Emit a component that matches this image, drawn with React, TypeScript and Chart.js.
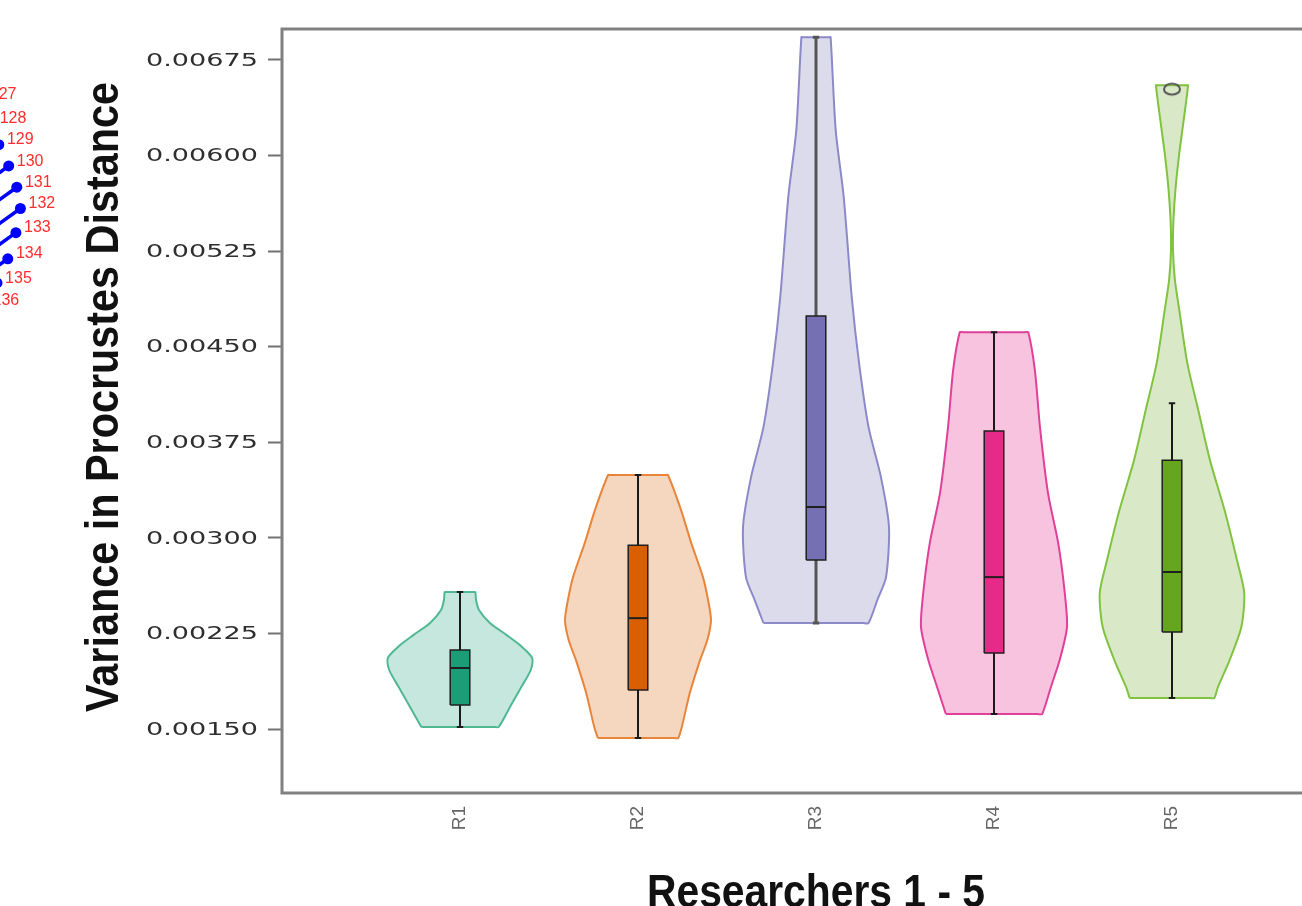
import React, { useEffect, useRef } from "react";
import { Chart, registerables } from "chart.js";

Chart.register(...registerables);

// ---------------- DATA ----------------
const categories = ["R1", "R2", "R3", "R4", "R5"];
const yTickValues = [0.0015, 0.00225, 0.003, 0.00375, 0.0045, 0.00525, 0.006, 0.00675];
const yTickLabels = ["0.00150", "0.00225", "0.00300", "0.00375", "0.00450", "0.00525", "0.00600", "0.00675"];
const yMin = 0.000998;
const yMax = 0.006993;

// violin profiles: value levels (bottom -> top) and relative density width (0-1)
const r1Levels = [0.001516, 0.001688, 0.001829, 0.001963, 0.002057, 0.002159, 0.002237, 0.002332, 0.002434, 0.002512, 0.002575];
const r1Density = [0.53, 0.7, 0.84, 0.97, 0.99, 0.82, 0.64, 0.41, 0.26, 0.22, 0.21];

const r2Levels = [0.001429, 0.001516, 0.001782, 0.002041, 0.002198, 0.002355, 0.002512, 0.002692, 0.002959, 0.003218, 0.003493];
const r2Density = [0.55, 0.6, 0.71, 0.85, 0.95, 1.0, 0.96, 0.89, 0.73, 0.59, 0.41];

const r3Levels = [0.002332, 0.002512, 0.002692, 0.003085, 0.003477, 0.003869, 0.004371, 0.004889, 0.005674, 0.006199, 0.006929];
const r3Density = [0.72, 0.84, 0.96, 1.0, 0.89, 0.72, 0.59, 0.49, 0.38, 0.27, 0.2];

const r4Levels = [0.001618, 0.00183, 0.002041, 0.0023, 0.002567, 0.002959, 0.003351, 0.003869, 0.004316, 0.004614];
const r4Density = [0.66, 0.78, 0.9, 1.0, 0.97, 0.88, 0.74, 0.63, 0.56, 0.47];

const r5Levels = [0.001743, 0.00183, 0.002041, 0.0023, 0.002567, 0.002826, 0.003218, 0.00361, 0.004003, 0.004371, 0.004787, 0.005022, 0.005258, 0.005493, 0.005752, 0.006019, 0.006278, 0.006552];
const r5Density = [0.58, 0.63, 0.79, 0.95, 0.99, 0.89, 0.72, 0.52, 0.36, 0.21, 0.1, 0.04, 0.014, 0.02, 0.05, 0.1, 0.16, 0.22];

// box plot statistics
const boxMin = [0.001516, 0.001429, 0.002332, 0.001618, 0.001743];
const boxQ1 = [0.001688, 0.001806, 0.002826, 0.002096, 0.002261];
const boxMedian = [0.001979, 0.00237, 0.003242, 0.002692, 0.002732];
const boxQ3 = [0.00212, 0.002943, 0.00474, 0.003838, 0.00361];
const boxMax = [0.002575, 0.003493, 0.006929, 0.004614, 0.004057];

const outlierCategory = [5];
const outlierValue = [0.006521];

// partial neighbouring figure (left edge): leaf ids and positions
const leafIds = [127, 128, 129, 130, 131, 132, 133, 134, 135, 136];
const leafX = [-22, -11, -3, 8, 17, 21, 16, 7, -5, -19];
const leafY = [97, 122, 144, 166, 188, 210, 235, 262, 287, 310];

// ---------------- STYLE ----------------
const violinFill = ["rgba(27,158,119,0.25)", "rgba(217,95,2,0.25)", "rgba(117,112,179,0.25)", "rgba(231,41,138,0.28)", "rgba(102,166,30,0.25)"];
const violinLine = ["#4fb891", "#e8853a", "#8c89c8", "#e0409a", "#80c340"];
const boxFill = ["#1b9e77", "#d95f02", "#7570b3", "#e7298a", "#66a61e"];
const whiskerColor = ["#1a1a1a", "#1a1a1a", "#555555", "#1a1a1a", "#1a1a1a"];
const whiskerWidth = [2, 2, 3, 2, 2];

const VIOLIN_HALF = 0.41;
const BOX_HALF = 0.055;
const CAP_HALF = 0.018;

const levelsAll = [r1Levels, r2Levels, r3Levels, r4Levels, r5Levels];
const densityAll = [r1Density, r2Density, r3Density, r4Density, r5Density];

function violinPoints(c: number, levels: number[], dens: number[]) {
  const n = levels.length;
  const left = levels.map((v, i) => ({ x: c - dens[i] * VIOLIN_HALF, y: v }));
  const right = levels.map((v, i) => ({ x: c + dens[i] * VIOLIN_HALF, y: v })).reverse();
  const wTop = dens[n - 1] * VIOLIN_HALF * 0.9;
  const wBot = dens[0] * VIOLIN_HALF * 0.9;
  const top = [
    { x: c - wTop, y: levels[n - 1] },
    { x: c + wTop, y: levels[n - 1] },
  ];
  const bottom = [
    { x: c + wBot, y: levels[0] },
    { x: c - wBot, y: levels[0] },
  ];
  return [...left, ...top, ...right, ...bottom, left[0]];
}

function buildDatasets(ellipse: HTMLCanvasElement) {
  const ds: any[] = [];
  categories.forEach((_, i) => {
    const c = i + 1;
    ds.push({
      data: violinPoints(c, levelsAll[i], densityAll[i]),
      showLine: true,
      fill: "shape",
      backgroundColor: violinFill[i],
      borderColor: violinLine[i],
      borderWidth: 2,
      tension: 0.25,
      pointRadius: 0,
      pointHoverRadius: 0,
      order: 4,
    });
    ds.push({
      data: [
        { x: c, y: boxMin[i] },
        { x: c, y: boxMax[i] },
        { x: c, y: null },
        { x: c - CAP_HALF, y: boxMax[i] },
        { x: c + CAP_HALF, y: boxMax[i] },
        { x: c, y: null },
        { x: c - CAP_HALF, y: boxMin[i] },
        { x: c + CAP_HALF, y: boxMin[i] },
      ],
      showLine: true,
      fill: false,
      borderColor: whiskerColor[i],
      borderWidth: whiskerWidth[i],
      spanGaps: false,
      pointRadius: 0,
      pointHoverRadius: 0,
      order: 3,
    });
    ds.push({
      data: [
        { x: c - BOX_HALF, y: boxQ1[i] },
        { x: c + BOX_HALF, y: boxQ1[i] },
        { x: c + BOX_HALF, y: boxQ3[i] },
        { x: c - BOX_HALF, y: boxQ3[i] },
        { x: c - BOX_HALF, y: boxQ1[i] },
      ],
      showLine: true,
      fill: "shape",
      backgroundColor: boxFill[i],
      borderColor: "#1f1f1f",
      borderWidth: 1.5,
      tension: 0,
      pointRadius: 0,
      pointHoverRadius: 0,
      order: 2,
    });
    ds.push({
      data: [
        { x: c - BOX_HALF, y: boxMedian[i] },
        { x: c + BOX_HALF, y: boxMedian[i] },
      ],
      showLine: true,
      fill: false,
      borderColor: "#1f1f1f",
      borderWidth: 2,
      pointRadius: 0,
      pointHoverRadius: 0,
      order: 1,
    });
  });
  ds.push({
    data: outlierCategory.map((c, i) => ({ x: c, y: outlierValue[i] })),
    showLine: false,
    pointStyle: ellipse,
    pointRadius: 8,
    pointHoverRadius: 8,
    order: 0,
  });
  return ds;
}

const decorPlugin = {
  id: "decor",
  afterDraw(chart: any) {
    const { ctx, chartArea: a, scales } = chart;
    const ys = scales.y;
    ctx.save();
    // plot frame
    ctx.strokeStyle = "#808080";
    ctx.lineWidth = 3;
    ctx.strokeRect(a.left, a.top, a.right - a.left, a.bottom - a.top);

    // y tick labels (wide letterforms)
    ctx.font = '18px "DejaVu Sans", sans-serif';
    ctx.fillStyle = "#2e2e2e";
    ctx.textAlign = "right";
    ctx.textBaseline = "middle";
    const sx = 112 / ctx.measureText(yTickLabels[yTickLabels.length - 1]).width;
    ys.ticks.forEach((t: any, i: number) => {
      const py = ys.getPixelForValue(t.value);
      ctx.save();
      ctx.translate(a.left - 24, py + 1);
      ctx.scale(sx, 1);
      ctx.fillText(yTickLabels[i], 0, 0);
      ctx.restore();
    });

    // axis titles
    ctx.fillStyle = "#111111";
    ctx.font = 'bold 47px "Liberation Sans Narrow", "Liberation Sans", Arial, sans-serif';
    ctx.textAlign = "center";
    ctx.textBaseline = "alphabetic";
    const yTitle = "Variance in Procrustes Distance";
    const yScaleF = 630 / ctx.measureText(yTitle).width;
    ctx.save();
    ctx.translate(118, 397);
    ctx.rotate(-Math.PI / 2);
    ctx.scale(yScaleF, 1);
    ctx.fillText(yTitle, 0, 0);
    ctx.restore();

    const xTitle = "Researchers 1 - 5";
    const xScaleF = 338 / ctx.measureText(xTitle).width;
    ctx.save();
    ctx.translate(816, 907);
    ctx.scale(xScaleF, 1);
    ctx.fillText(xTitle, 0, 0);
    ctx.restore();
    ctx.restore();
  },
};

const leafLabelPlugin = {
  id: "leafLabels",
  afterDatasetsDraw(chart: any) {
    const { ctx, scales } = chart;
    ctx.save();
    ctx.font = '16px "Liberation Sans", Arial, sans-serif';
    ctx.fillStyle = "#ff2d2d";
    ctx.textAlign = "left";
    ctx.textBaseline = "middle";
    leafIds.forEach((id, i) => {
      ctx.fillText(String(id), scales.x.getPixelForValue(leafX[i] + 9), scales.y.getPixelForValue(leafY[i] - 5));
    });
    ctx.restore();
  },
};

export default function App() {
  const mainRef = useRef<HTMLCanvasElement>(null);
  const fragRef = useRef<HTMLCanvasElement>(null);

  useEffect(() => {
    const ellipse = document.createElement("canvas");
    ellipse.width = 22;
    ellipse.height = 16;
    const ec = ellipse.getContext("2d")!;
    ec.strokeStyle = "#555555";
    ec.lineWidth = 2;
    ec.beginPath();
    ec.ellipse(11, 8, 8, 5.5, 0, 0, Math.PI * 2);
    ec.stroke();

    const main = new Chart(mainRef.current!, {
      type: "scatter",
      data: { datasets: buildDatasets(ellipse) },
      options: {
        animation: false,
        responsive: false,
        devicePixelRatio: 1,
        events: [],
        layout: { padding: { top: 29, left: 0, right: 20, bottom: 0 } },
        plugins: { legend: { display: false }, tooltip: { enabled: false } },
        scales: {
          x: {
            type: "linear",
            min: 0,
            max: 6,
            afterBuildTicks: (scale: any) => {
              scale.ticks = categories.map((_, i) => ({ value: i + 1 }));
            },
            afterFit: (scale: any) => {
              scale.height = 157;
            },
            grid: { display: false, drawTicks: false },
            border: { display: false },
            ticks: {
              autoSkip: false,
              minRotation: 90,
              maxRotation: 90,
              padding: 13,
              color: "#666666",
              font: { family: '"Liberation Sans", Arial, sans-serif', size: 19 },
              callback: (v: any) => categories[Math.round(Number(v)) - 1] ?? "",
            },
          },
          y: {
            type: "linear",
            min: yMin,
            max: yMax,
            afterBuildTicks: (scale: any) => {
              scale.ticks = yTickValues.map((v) => ({ value: v }));
            },
            afterFit: (scale: any) => {
              scale.width = 282;
            },
            grid: {
              display: true,
              drawOnChartArea: false,
              drawTicks: true,
              tickLength: 14,
              tickColor: "#707070",
              tickWidth: 2,
            },
            border: { display: false },
            ticks: { display: false },
          },
        },
      },
      plugins: [decorPlugin],
    } as any);

    const stems: any[] = [];
    leafX.forEach((x, i) => {
      stems.push({ x: x - 30, y: leafY[i] + 20 }, { x, y: leafY[i] }, { x, y: null });
    });

    const frag = new Chart(fragRef.current!, {
      type: "scatter",
      data: {
        datasets: [
          {
            data: stems,
            showLine: true,
            borderColor: "#0000ff",
            borderWidth: 3.5,
            pointRadius: 0,
            spanGaps: false,
            clip: false,
          },
          {
            data: leafX.map((x, i) => ({ x, y: leafY[i] })),
            showLine: false,
            pointRadius: 5.5,
            backgroundColor: "#0000ff",
            borderWidth: 0,
            clip: false,
          },
        ],
      },
      options: {
        animation: false,
        responsive: false,
        devicePixelRatio: 1,
        events: [],
        layout: { padding: 0 },
        plugins: { legend: { display: false }, tooltip: { enabled: false } },
        scales: {
          x: { type: "linear", min: -40, max: 70, display: false },
          y: { type: "linear", min: 0, max: 330, reverse: true, display: false },
        },
      },
      plugins: [leafLabelPlugin],
    } as any);

    return () => {
      main.destroy();
      frag.destroy();
    };
  }, []);

  return (
    <div style={{ position: "fixed", left: 0, top: 0, width: 1302, height: 906, overflow: "hidden", background: "#ffffff" }}>
      <canvas ref={mainRef} width={1370} height={950} style={{ position: "absolute", left: 0, top: 0, width: 1370, height: 950 }} />
      <canvas ref={fragRef} width={110} height={330} style={{ position: "absolute", left: -40, top: 0, width: 110, height: 330 }} />
    </div>
  );
}
